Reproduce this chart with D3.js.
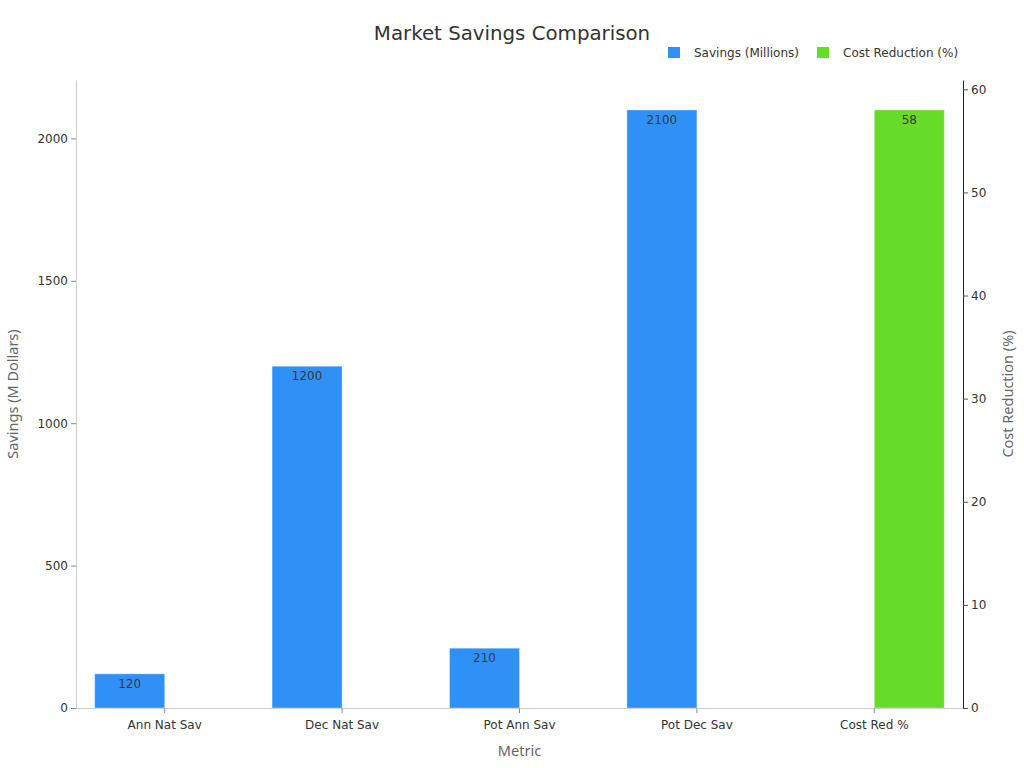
<!DOCTYPE html>
<html>
<head>
<meta charset="utf-8">
<script src="https://cdn.jsdelivr.net/npm/d3@7"></script>
<style>
body{margin:0;background:#fff;}
text{font-family:"DejaVu Sans",sans-serif;}
.tick text{fill:#333;font-size:12px;}
.axtitle{font-family:"Noto Sans","Open Sans",sans-serif;fill:#666;font-size:14.5px;}
</style>
</head>
<body>
<svg id="chart"></svg>
<script>
var categories=["Ann Nat Sav","Dec Nat Sav","Pot Ann Sav","Pot Dec Sav","Cost Red %"]
var savings=[120,1200,210,2100,null]
var costReduction=[null,null,null,null,58]
var leftTicks=[0,500,1000,1500,2000]
var rightTicks=[0,10,20,30,40,50,60]

var screen={width:1024,height:768}
var margins={left:76,right:61,top:80,bottom:60}
var graph={
    width:screen.width-margins.left-margins.right,
    height:screen.height-margins.top-margins.bottom}

var svg=d3.select("#chart")
    .attr("width",screen.width)
    .attr("height",screen.height)

var xScale=d3.scaleBand()
    .domain(categories)
    .range([0,graph.width])
var xSub=d3.scaleBand()
    .domain(["s","c"])
    .range([0,xScale.bandwidth()])
    .paddingOuter(0.267)
var yScale=d3.scaleLinear()
    .domain([0,2100*1.05])
    .range([graph.height,0])
var yScale1=d3.scaleLinear()
    .domain([0,58*1.05])
    .range([graph.height,0])

var target=svg.append("g")
    .attr("transform","translate("+margins.left+","+margins.top+")")

//axes
var xAxis=target.append("g")
    .attr("transform","translate(0,"+graph.height+")")
    .call(d3.axisBottom(xScale).tickSize(5).tickSizeOuter(0))
xAxis.select(".domain").attr("stroke","#ccc")
xAxis.selectAll(".tick line").attr("stroke","#888")
xAxis.selectAll(".tick text").attr("dy","1.1em")

var ylAxis=target.append("g")
    .call(d3.axisLeft(yScale).tickValues(leftTicks).tickFormat(d3.format("d")).tickSize(5).tickSizeOuter(0))
ylAxis.select(".domain").attr("stroke","#ccc")
ylAxis.selectAll(".tick line").attr("stroke","#888")

var yrAxis=target.append("g")
    .attr("transform","translate("+graph.width+",0)")
    .call(d3.axisRight(yScale1).tickValues(rightTicks).tickSize(5).tickSizeOuter(0))
yrAxis.select(".domain").attr("stroke","#222")
yrAxis.selectAll(".tick line").attr("stroke","#555")

//bars
var drawSeries=function(values,key,scale,color){
    var g=target.append("g")
    categories.forEach(function(c,i){
        var v=values[i]
        if(v==null) return
        var x=xScale(c)+xSub(key)
        g.append("rect")
            .attr("x",x)
            .attr("y",scale(v))
            .attr("width",xSub.bandwidth())
            .attr("height",graph.height-scale(v))
            .attr("fill",color)
            .attr("stroke","rgba(255,255,255,0.35)")
            .attr("stroke-width",1)
        g.append("text")
            .text(v)
            .attr("x",x+xSub.bandwidth()/2)
            .attr("y",scale(v)+14)
            .attr("text-anchor","middle")
            .attr("font-size",12)
            .attr("fill","#3a3a3a")
    })
}
drawSeries(savings,"s",yScale,"#2f91f8")
drawSeries(costReduction,"c",yScale1,"#66db29")

//labels
svg.append("text")
    .text("Market Savings Comparison")
    .attr("x",512)
    .attr("y",40)
    .attr("text-anchor","middle")
    .attr("font-size",19.8)
    .attr("fill","#333")

svg.append("text")
    .text("Metric")
    .classed("axtitle",true)
    .attr("x",margins.left+graph.width/2)
    .attr("y",756)
    .attr("text-anchor","middle")
svg.append("g")
    .attr("transform","translate(18,"+(margins.top+graph.height/2)+")")
    .append("text")
    .text("Savings (M Dollars)")
    .classed("axtitle",true)
    .attr("text-anchor","middle")
    .attr("transform","rotate(-90)")
svg.append("g")
    .attr("transform","translate(1013,"+(margins.top+graph.height/2)+")")
    .append("text")
    .text("Cost Reduction (%)")
    .classed("axtitle",true)
    .attr("text-anchor","middle")
    .attr("transform","rotate(-90)")

//legend
var legendItems=[{name:"Savings (Millions)",color:"#2f91f8",x:668},{name:"Cost Reduction (%)",color:"#66db29",x:817}]
var legend=svg.append("g")
legendItems.forEach(function(d){
    legend.append("rect")
        .attr("x",d.x)
        .attr("y",47)
        .attr("width",12)
        .attr("height",11)
        .attr("fill",d.color)
    legend.append("text")
        .text(d.name)
        .attr("x",d.x+26)
        .attr("y",57)
        .attr("font-size",12)
        .attr("fill","#333")
})
</script>
</body>
</html>
